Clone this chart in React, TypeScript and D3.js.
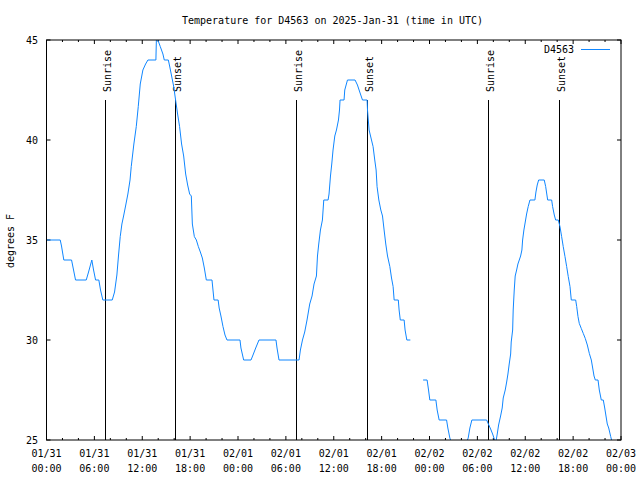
import React from "react";
import * as d3 from "d3";

// Hours after 2025-01-31 00:00 UTC and temperature (°F); null marks the data gap
const hours = [
  0, 1.72, 1.88, 2.17, 3.14, 3.39, 3.64, 4.98, 5.27, 5.68, 5.9, 6.15, 6.56, 6.77, 7.06, 8.24,
  8.53, 8.82, 9.03, 9.24, 9.45, 9.66, 9.91, 10.2, 10.47, 10.62, 10.95, 11.25, 11.5, 11.75,
  12.08, 12.42, 12.71, 13.71, 13.8, 13.96, 14.26, 14.59, 14.76, 15.27, 15.43, 15.68, 15.93,
  16.18, 16.43, 16.68, 16.93, 17.19, 17.44, 17.69, 17.94, 18.15, 18.28, 18.53, 18.78, 19.03,
  19.28, 19.53, 19.78, 20.03, 20.74, 20.99, 21.51, 21.64, 21.86, 22.12, 22.37, 22.62, 24.25,
  24.37, 24.71, 25.63, 25.88, 26.22, 26.63, 28.76, 28.89, 29.14, 31.65, 31.82, 32.08, 32.36,
  32.65, 32.99, 33.28, 33.53, 33.83, 33.96, 34.12, 34.33, 34.58, 34.75, 35.29, 35.41, 35.59,
  35.75, 35.91, 36.13, 36.34, 36.59, 36.72, 36.79, 37.29, 37.38, 37.72, 38.67, 38.97, 39.26,
  39.6, 40.18, 40.23, 40.43, 40.73, 40.93, 41.14, 41.31, 41.43, 41.65, 41.9, 42.11, 42.31,
  42.52, 42.74, 43.03, 43.24, 43.44, 43.57, 44.09, 44.19, 44.34, 44.82, 44.94, 45.16, 45.6,
  46.4,
  47.2, 47.7, 47.88, 48.04, 48.8, 48.96, 49.21, 50.14, 50.3, 50.55, 50.8, 51.68, 52.56, 52.85,
  53.06, 53.31, 55.16, 55.38, 55.66, 55.91, 56.16, 56.32, 56.49, 56.66, 56.91, 57.11, 57.24,
  57.49, 57.67, 57.83, 57.99, 58.17, 58.24, 58.42, 58.49, 58.62, 58.74, 58.92, 59.08, 59.25,
  59.42, 59.58, 59.67, 59.83, 60.0, 60.17, 60.37, 60.59, 61.21, 61.34, 61.5, 61.68, 62.38,
  62.56, 62.81, 63.31, 63.43, 63.64, 63.81, 64.14, 64.35, 64.56, 64.76, 64.98, 65.19, 65.39,
  65.61, 65.77, 66.32, 66.45, 66.61, 66.77, 67.02, 67.27, 67.52, 67.78, 68.03, 68.28, 68.45,
  68.62, 68.78, 69.12, 69.28, 69.53, 69.78, 69.96, 70.12, 70.28, 70.46, 70.71, 70.94,
];
const temps: (number | null)[] = [
  35, 35, 34.7, 34, 34, 33.5, 33, 33, 33.4, 34, 33.5, 33, 33, 32.5, 32, 32,
  32.4, 33.25, 34.25, 35.17, 35.8, 36.2, 36.7, 37.3, 38, 38.67, 39.8, 40.67, 41.67, 42.8,
  43.5, 43.8, 44, 44, 45.5, 45, 44.67, 44.3, 44, 44, 43.7, 43.2, 42.7,
  42, 41.3, 40.67, 39.8, 39.2, 38.3, 37.75, 37.3, 37.2, 35.8, 35.17, 35, 34.67,
  34.4, 34.1, 33.6, 33, 33, 32, 32, 31.6, 31.2, 30.67, 30.25, 30, 30,
  29.6, 29, 29, 29.25, 29.6, 30, 30, 29.6, 29, 29, 29.5, 30, 30.4,
  31, 31.8, 32.2, 32.8, 33.2, 34.2, 34.8, 35.5, 36, 37, 37, 37.3, 38.2,
  38.8, 39.5, 40.2, 40.5, 41, 41.5, 42, 42, 42.5, 43, 43, 42.75, 42.4,
  42, 42, 41.5, 40.5, 40, 39.67, 39, 38.5, 37.67, 37, 36.5, 36.2, 35.5,
  34.8, 34.2, 33.67, 33.1, 32.67, 32, 32, 31.5, 31, 31, 30.5, 30, 30,
  null,
  28, 28, 27.5, 27, 27, 26.5, 26, 26, 25.6, 25.1, 24.8, 24.6, 24.8, 25.1,
  25.6, 26, 26, 25.8, 25.55, 25.3, 25, 24.9, 25.3, 25.75, 26.2, 26.6, 27.1,
  27.5, 27.9, 28.3, 28.8, 29.3, 29.9, 30.5, 31.5, 32.5, 33.2, 33.5, 33.8, 34,
  34.2, 34.5, 35, 35.5, 35.9, 36.3, 36.67, 37, 37, 37.4, 37.75, 38, 38,
  37.67, 37, 37, 36.67, 36.25, 36, 36, 35.67, 35.17, 34.67, 34.17, 33.67, 33.17,
  32.67, 32, 32, 31.67, 31.17, 30.83, 30.58, 30.33, 30.08, 29.75, 29.33, 29, 28.6,
  28.2, 28, 28, 27.5, 27, 27, 26.6, 26.2, 25.8, 25.6, 25.17, 24.8,
];

const sunHours = [7.37, 16.14, 31.31, 40.21, 55.37, 64.27];
const sunLabels = ["Sunrise", "Sunset", "Sunrise", "Sunset", "Sunrise", "Sunset"];
const yTicks = [25, 30, 35, 40, 45];
const seriesName = "D4563";
const title = "Temperature for D4563 on 2025-Jan-31 (time in UTC)";
const yLabel = "degrees F";

const START = Date.UTC(2025, 0, 31);
const END = Date.UTC(2025, 1, 3);
const toDate = (h: number) => new Date(START + h * 3600e3);

export default function App() {
  const L = 46.5, R = 621, T = 40, B = 440;
  const x = d3.scaleUtc().domain([new Date(START), new Date(END)]).range([L, R]);
  const y = d3.scaleLinear().domain([25, 45]).range([B, T]);
  const font = "'DejaVu Sans Mono', monospace";
  const color = "#0f86ff";

  const pts = hours.map((h, i) => ({ t: toDate(h), v: temps[i] }));
  const line = d3
    .line<{ t: Date; v: number | null }>()
    .defined((d) => d.v !== null)
    .x((d) => x(d.t))
    .y((d) => y(d.v as number));

  const majorTicks = x.ticks(d3.utcHour.every(6)!);
  const minorTicks = x.ticks(d3.utcHour.every(2)!).filter((t) => t.getUTCHours() % 6 !== 0);
  const fmtDate = d3.utcFormat("%m/%d");
  const fmtTime = d3.utcFormat("%H:%M");

  return (
    <svg
      width={640}
      height={480}
      style={{ position: "absolute", left: 0, top: 0, background: "#fff" }}
      fontFamily={font}
      fontSize={10}
    >
      <rect x={0} y={0} width={640} height={480} fill="#fff" />
      <defs>
        <clipPath id="plotclip">
          <rect x={L} y={T} width={R - L} height={B - T} />
        </clipPath>
      </defs>
      <text x={332.5} y={24} textAnchor="middle" fill="#000">{title}</text>

      {/* ticks */}
      {majorTicks.map((t, i) => (
        <g key={"M" + i}>
          <line x1={x(t)} x2={x(t)} y1={B} y2={B - 4} stroke="#000" />
          <line x1={x(t)} x2={x(t)} y1={T} y2={T + 4} stroke="#000" />
          <text x={x(t)} y={457} textAnchor="middle">{fmtDate(t)}</text>
          <text x={x(t)} y={472} textAnchor="middle">{fmtTime(t)}</text>
        </g>
      ))}
      {minorTicks.map((t, i) => (
        <g key={"m" + i}>
          <line x1={x(t)} x2={x(t)} y1={B} y2={B - 2} stroke="#000" />
          <line x1={x(t)} x2={x(t)} y1={T} y2={T + 2} stroke="#000" />
        </g>
      ))}
      {yTicks.map((v) => (
        <g key={"y" + v}>
          <line x1={L} x2={L + 4} y1={y(v)} y2={y(v)} stroke="#000" />
          <line x1={R} x2={R - 4} y1={y(v)} y2={y(v)} stroke="#000" />
          <text x={38} y={y(v)} dy="0.35em" textAnchor="end">{v}</text>
        </g>
      ))}
      <text transform={`translate(14,241) rotate(-90)`} textAnchor="middle">{yLabel}</text>

      {/* sunrise / sunset */}
      {sunHours.map((h, i) => {
        const xx = Math.round(x(toDate(h))) + 0.5;
        return (
          <g key={"s" + i}>
            <line x1={xx} x2={xx} y1={100} y2={B} stroke="#000" />
            <text transform={`translate(${xx + 5},92) rotate(-90)`} textAnchor="start">
              {sunLabels[i]}
            </text>
          </g>
        );
      })}

      <path
        d={line(pts) || ""}
        fill="none"
        stroke={color}
        strokeWidth={1}
        clipPath="url(#plotclip)"
      />

      {/* legend */}
      <text x={574} y={53} textAnchor="end">{seriesName}</text>
      <line x1={581} x2={610} y1={49.5} y2={49.5} stroke={color} />

      <rect x={L} y={T} width={R - L} height={B - T} fill="none" stroke="#000" />
    </svg>
  );
}
